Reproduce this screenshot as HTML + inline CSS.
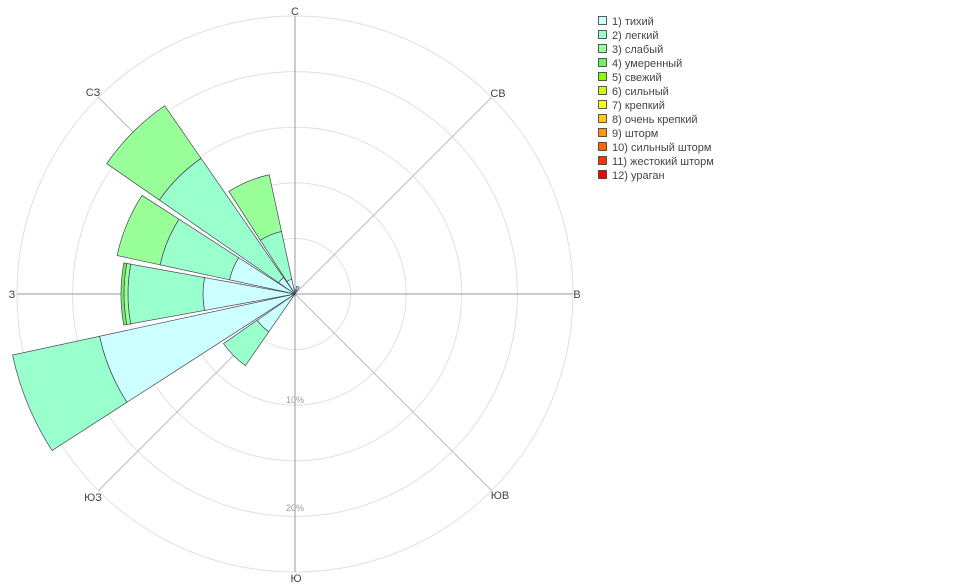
<!DOCTYPE html>
<html><head><meta charset="utf-8"><style>
html,body{margin:0;padding:0;background:#fff;width:954px;height:588px;overflow:hidden}
svg{display:block;font-family:"Liberation Sans","DejaVu Sans",sans-serif}
</style></head><body>
<svg id="s" width="954" height="588" xmlns="http://www.w3.org/2000/svg">
<g fill="none" stroke="#e0e0e0" stroke-width="1">
<circle cx="295" cy="294" r="55.6"/><circle cx="295" cy="294" r="111.2"/><circle cx="295" cy="294" r="166.8"/><circle cx="295" cy="294" r="222.4"/><circle cx="295" cy="294" r="278"/>
</g>
<g stroke="#bbb" stroke-width="1">
<line x1="98.4" y1="97.4" x2="491.6" y2="490.6"/><line x1="491.6" y1="97.4" x2="98.4" y2="490.6"/>
</g>
<g stroke="#999" stroke-width="1">
<line x1="295" y1="16" x2="295" y2="572"/><line x1="17" y1="294" x2="573" y2="294"/>
</g>
<g id="sec"></g>
<g fill="#444" font-size="11" text-anchor="middle">
<text x="295" y="15">С</text><text x="498" y="97">СВ</text><text x="577" y="298">В</text><text x="500" y="499">ЮВ</text>
<text x="296" y="582">Ю</text><text x="93" y="501">ЮЗ</text><text x="12" y="298">З</text><text x="93" y="96">СЗ</text>
</g>
<g fill="#999" font-size="9" text-anchor="middle"><text x="295" y="403">10%</text><text x="295" y="511">20%</text></g>
<g font-size="11" fill="#444" stroke="#333" stroke-width="0.8">
<rect x="598.5" y="16.5" width="8" height="8" fill="#ccffff"/>
<rect x="598.5" y="30.5" width="8" height="8" fill="#99ffcc"/>
<rect x="598.5" y="44.5" width="8" height="8" fill="#99ff99"/>
<rect x="598.5" y="58.5" width="8" height="8" fill="#77ee66"/>
<rect x="598.5" y="72.5" width="8" height="8" fill="#88ff00"/>
<rect x="598.5" y="86.5" width="8" height="8" fill="#ccff00"/>
<rect x="598.5" y="100.5" width="8" height="8" fill="#ffff00"/>
<rect x="598.5" y="114.5" width="8" height="8" fill="#ffcc00"/>
<rect x="598.5" y="128.5" width="8" height="8" fill="#ff9900"/>
<rect x="598.5" y="142.5" width="8" height="8" fill="#ff6600"/>
<rect x="598.5" y="156.5" width="8" height="8" fill="#ff3300"/>
<rect x="598.5" y="170.5" width="8" height="8" fill="#ff0000"/>
</g>
<g font-size="11" fill="#444">
<text x="612" y="25">1) тихий</text><text x="612" y="39">2) легкий</text><text x="612" y="53">3) слабый</text>
<text x="612" y="67">4) умеренный</text><text x="612" y="81">5) свежий</text><text x="612" y="95">6) сильный</text>
<text x="612" y="109">7) крепкий</text><text x="612" y="123">8) очень крепкий</text><text x="612" y="137">9) шторм</text>
<text x="612" y="151">10) сильный шторм</text><text x="612" y="165">11) жестокий шторм</text><text x="612" y="179">12) ураган</text>
</g>
</svg>
<script>
var cx=295,cy=294,C=["#ccffff","#99ffcc","#99ff99","#77ee66"];
var data=[[225,[46,87]],[247.5,[200,289]],[270,[92,167,171,174]],[292.5,[67,138,182]],[315,[20,165,229]],[337.5,[15,64,122]],[22.5,[4,8]]];
function p(a,r){a=a*Math.PI/180;return (cx+r*Math.sin(a)).toFixed(2)+","+(cy-r*Math.cos(a)).toFixed(2);}
var h="";
data.forEach(function(d){var a=d[0],a1=a-10.3,a2=a+10.3,prev=0;
d[1].forEach(function(r,i){
var path="M"+p(a1,prev)+" L"+p(a1,r)+" A"+r+","+r+" 0 0 1 "+p(a2,r)+" L"+p(a2,prev);
if(prev>0)path+=" A"+prev+","+prev+" 0 0 0 "+p(a1,prev);
path+=" Z";
h+='<path d="'+path+'" fill="'+C[i]+'" stroke="#445" stroke-width="0.7"/>';prev=r;});});
document.getElementById("sec").innerHTML=h;
</script>
</body></html>
